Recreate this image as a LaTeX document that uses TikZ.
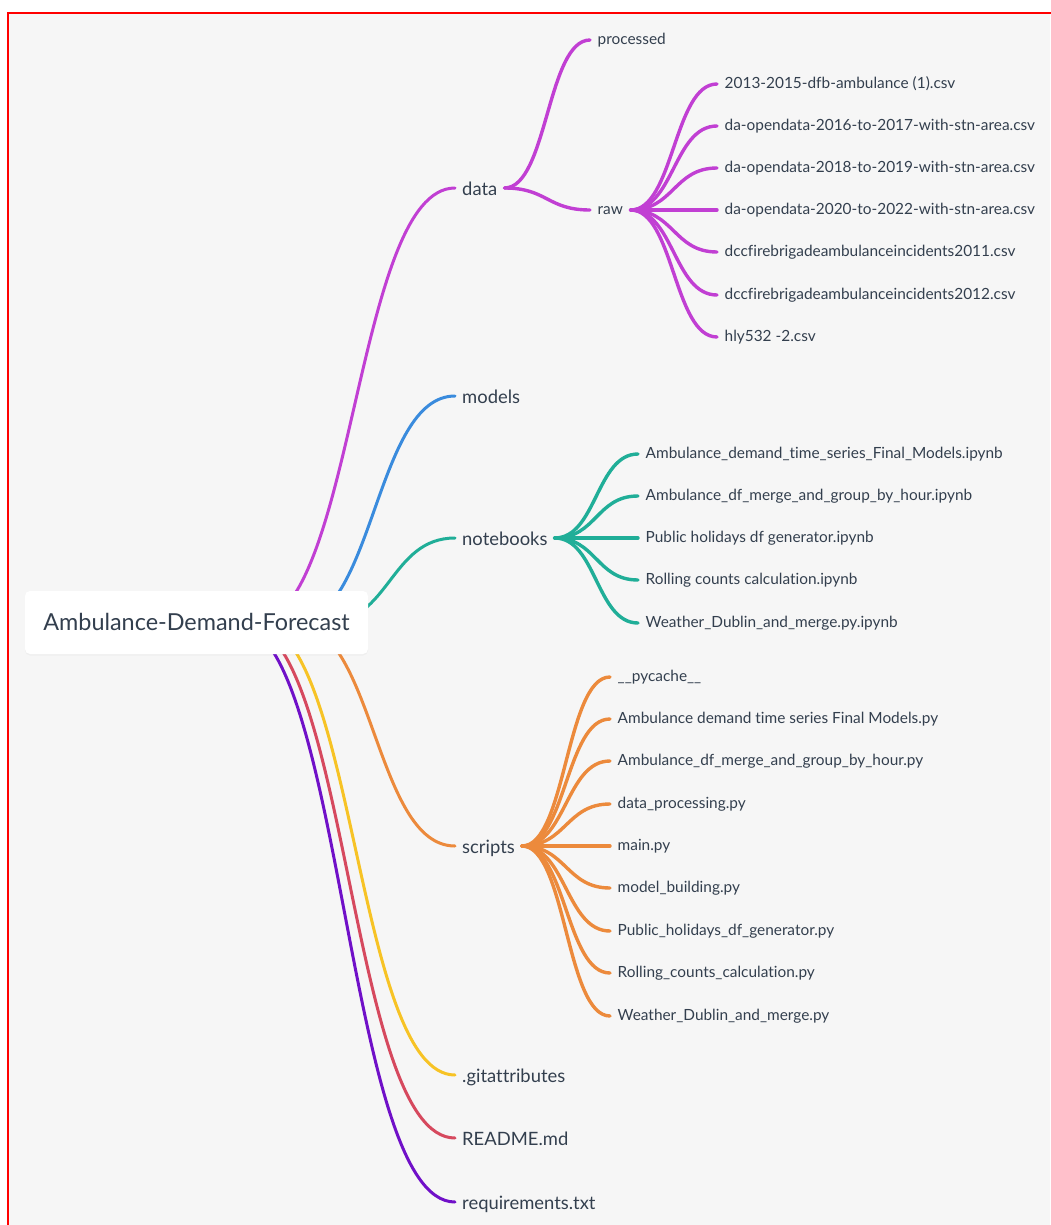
\documentclass[tikz,border=0pt]{standalone}
\usepackage{fontspec}
\setmainfont{Lato}[Ligatures=NoCommon]
\usetikzlibrary{calc,shadows}
\definecolor{txt}{HTML}{333F4E}
\definecolor{bgc}{HTML}{F6F6F6}
\definecolor{cdata}{HTML}{C13FD3}
\definecolor{cmodels}{HTML}{3A8BDD}
\definecolor{cnote}{HTML}{20AE98}
\definecolor{cscript}{HTML}{EC8A3C}
\definecolor{cgit}{HTML}{F7C325}
\definecolor{creadme}{HTML}{D6495E}
\definecolor{creq}{HTML}{7010C8}
\begin{document}
\begin{tikzpicture}[x=1pt,y=-1pt,
  mm/.style={to path={let \p1=(\tikztostart), \p2=(\tikztotarget) in .. controls ({0.5*\x1+0.5*\x2},\y1) and ({0.5*\x1+0.5*\x2},\y2) .. (\tikztotarget)}},
  link/.style={line width=3pt, line cap=round},
  sublink/.style={line width=3.4pt, line cap=round},
  l1/.style={anchor=west, inner xsep=7pt, inner ysep=0pt, text=txt, font=\fontsize{18.4}{22}\selectfont, text height=14.2pt, text depth=0pt},
  l2/.style={anchor=west, inner xsep=7.5pt, inner ysep=0pt, text=txt, font=\fontsize{15.4}{18}\selectfont, text height=9.8pt, text depth=0pt},
  rootbox/.style={fill=white, rounded corners=5pt, minimum width=343pt, minimum height=63pt, inner sep=0pt, text=txt, font=\fontsize{23.4}{27}\selectfont, text height=16.7pt, text depth=0pt, drop shadow={opacity=0.06, shadow xshift=0pt, shadow yshift=-1.5pt}},
]
\useasboundingbox (0,0) rectangle (1050,1225);
\fill[white] (0,0) rectangle (1050,1225);
\fill[bgc] (8,13) rectangle (1050,1225);
\draw[red, line width=2pt] (8,1226) -- (8,13) -- (1051,13);

% level 1 nodes
\node[l1] (data) at (455,188) {data};
\node[l1] (models) at (455,396) {models};
\node[l1] (notebooks) at (455,538) {notebooks};
\node[l1] (scripts) at (455,846) {scripts};
\node[l1] (git) at (455,1075) {.gitattributes};
\node[l1] (readme) at (455,1138) {README.md};
\node[l1] (req) at (455,1202) {requirements.txt};

% data children
\node[l2] (processed) at (590,40) {processed};
\node[l2] (raw) at (590,210) {raw};
\node[l2] (r1) at (717,84) {2013-2015-dfb-ambulance (1).csv};
\node[l2] (r2) at (717,126) {da-opendata-2016-to-2017-with-stn-area.csv};
\node[l2] (r3) at (717,168) {da-opendata-2018-to-2019-with-stn-area.csv};
\node[l2] (r4) at (717,210) {da-opendata-2020-to-2022-with-stn-area.csv};
\node[l2] (r5) at (717,252) {dccfirebrigadeambulanceincidents2011.csv};
\node[l2] (r6) at (717,295) {dccfirebrigadeambulanceincidents2012.csv};
\node[l2] (r7) at (717,337) {hly532 -2.csv};

% notebooks children
\node[l2] (n1) at (638,454) {Ambulance\_demand\_time\_series\_Final\_Models.ipynb};
\node[l2] (n2) at (638,496) {Ambulance\_df\_merge\_and\_group\_by\_hour.ipynb};
\node[l2] (n3) at (638,538) {Public holidays df generator.ipynb};
\node[l2] (n4) at (638,580) {Rolling counts calculation.ipynb};
\node[l2] (n5) at (638,623) {Weather\_Dublin\_and\_merge.py.ipynb};

% scripts children
\node[l2] (s1) at (610,677) {\_\_pycache\_\_};
\node[l2] (s2) at (610,719) {Ambulance demand time series Final Models.py};
\node[l2] (s3) at (610,761) {Ambulance\_df\_merge\_and\_group\_by\_hour.py};
\node[l2] (s4) at (610,804) {data\_processing.py};
\node[l2] (s5) at (610,846) {main.py};
\node[l2] (s6) at (610,888) {model\_building.py};
\node[l2] (s7) at (610,931) {Public\_holidays\_df\_generator.py};
\node[l2] (s8) at (610,973) {Rolling\_counts\_calculation.py};
\node[l2] (s9) at (610,1016) {Weather\_Dublin\_and\_merge.py};

% root link origins (hidden behind the root box)
\coordinate (o1) at (254,623);
\coordinate (o2) at (294,623);
\coordinate (o3) at (325,623);
\coordinate (o4) at (294,623);
\coordinate (o5) at (256,623);
\coordinate (o6) at (243,623);
\coordinate (o7) at (234,623);

\draw[link,cdata] (o1) to[mm] (data.west);
\draw[link,cmodels] (o2) to[mm] (models.west);
\draw[link,cnote] (o3) to[mm] (notebooks.west);
\draw[link,cscript] (o4) to[mm] (scripts.west);
\draw[link,cgit] (o5) to[mm] (git.west);
\draw[link,creadme] (o6) to[mm] (readme.west);
\draw[link,creq] (o7) to[mm] (req.west);

\foreach \c in {processed,raw}
  \draw[sublink,cdata] (data.east) to[mm] (\c.west);
\foreach \c in {r1,r2,r3,r4,r5,r6,r7}
  \draw[sublink,cdata] (raw.east) to[mm] (\c.west);
\foreach \c in {n1,n2,n3,n4,n5}
  \draw[sublink,cnote] (notebooks.east) to[mm] (\c.west);
\foreach \c in {s1,s2,s3,s4,s5,s6,s7,s8,s9}
  \draw[sublink,cscript] (scripts.east) to[mm] (\c.west);

\node[rootbox] (root) at (196.5,622.5) {Ambulance-Demand-Forecast};
\end{tikzpicture}
\end{document}
